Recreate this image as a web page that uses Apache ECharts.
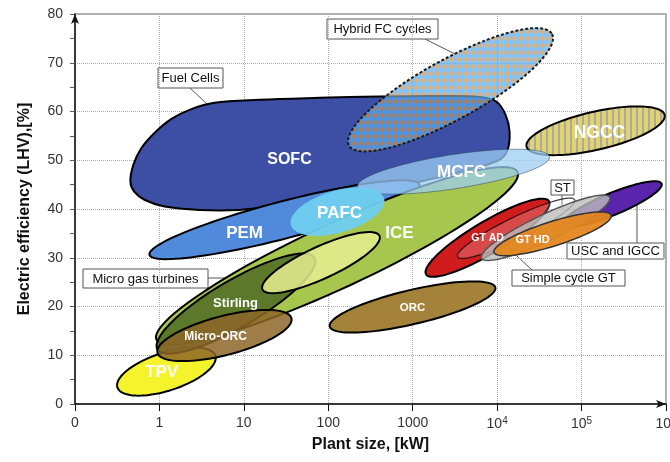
<!DOCTYPE html>
<html>
<head>
<meta charset="utf-8">
<script src="https://cdn.jsdelivr.net/npm/echarts@6/dist/echarts.min.js"></script>
<style>
  html, body { margin: 0; background: #fff; }
  #chart { width: 670px; height: 462px; }
</style>
</head>
<body>
<div id="chart"></div>
<script>
// Fuel cells envelope (outline), plant size [kW] / efficiency [%]
var fcSize = [0.453, 0.492, 0.612, 0.873, 1.39, 2.39, 4.48, 15.3, 78.7, 404, 2078, 6187, 9840, 12590, 14030, 13280, 10670,
              4710, 1204, 308, 78.7, 20.1, 8.87, 2.98, 1.15, 0.664, 0.506];
var fcEff  = [45.6, 49.1, 52.5, 55.6, 58.5, 60.5, 61.8, 62.4, 62.8, 63.1, 63.2, 63.0, 62.0, 59.3, 55.9, 52.1, 50.1,
              48.1, 45.6, 43.5, 41.9, 40.5, 39.8, 39.8, 40.5, 41.9, 43.5];

// technology areas: ends of the long axis (size, efficiency) and half width in efficiency points
var techNames = ['Hybrid FC cycles', 'PEM', 'ICE', 'NGCC', 'MCFC', 'PAFC', 'TPV', 'Stirling', 'Micro gas turbines',
                 'Micro-ORC', 'ORC', 'USC and IGCC', 'GT AD', 'Simple cycle GT', 'ST', 'GT HD'];
var sizeLow   = [176, 0.762, 0.921, 22300, 222, 36.1, 0.318, 0.947, 16.6, 0.947, 104, 59600, 1438, 3396, 6530, 9160];
var effLow    = [53.0, 30.6, 13.2, 52.8, 44.6, 36.7, 3.4, 11.2, 23.5, 10.5, 15.9, 36.8, 26.6, 30.2, 29.9, 31.1];
var sizeHigh  = [44670, 1204, 17450, 962000, 41780, 458, 4.6, 68.6, 404, 36.6, 9520, 887000, 41200, 82600, 215000, 224000];
var effHigh   = [75.9, 45.0, 47.6, 59.3, 50.7, 42.2, 9.9, 30.0, 34.5, 17.6, 23.9, 45.2, 41.6, 41.9, 42.4, 38.7];
var effSpread = [6.15, 3.8, 6.6, 3.9, 3.5, 4.3, 3.9, 4.8, 3.3, 4.0, 3.5, 2.25, 3.3, 2.25, 2.7, 2.5];

// labels written inside the areas
var labelNames = ['SOFC', 'PEM', 'PAFC', 'MCFC', 'ICE', 'NGCC', 'Stirling', 'Micro-ORC', 'TPV', 'ORC', 'GT AD', 'GT HD'];
var labelSize  = [34.7, 10.2, 136, 3787, 698, 163000, 7.95, 4.61, 1.06, 994, 7700, 26300];
var labelEff   = [50.1, 35.1, 39.2, 47.6, 35.1, 55.6, 20.6, 13.8, 6.45, 19.8, 34.1, 33.7];

var xTicks = [0.1, 1, 10, 100, 1000, 1e4, 1e5, 1e6];

var FONT = '"Liberation Sans", Arial, sans-serif';
var labelFont = [16, 17, 17, 17, 17, 17.5, 13, 12, 17, 11.5, 10.5, 11];

function makePattern(w, h, draw) {
    var c = document.createElement('canvas');
    c.width = w; c.height = h;
    draw(c.getContext('2d'));
    return { image: c, repeat: 'repeat' };
}
var dotFill = makePattern(7, 7, function (ctx) {
    ctx.fillStyle = '#58aef2';
    ctx.fillRect(0, 0, 7, 7);
    ctx.fillStyle = '#d8913f';
    ctx.beginPath();
    ctx.arc(3.5, 3.5, 2.3, 0, Math.PI * 2);
    ctx.fill();
});
var stripeFill = makePattern(6, 6, function (ctx) {
    ctx.fillStyle = '#e2d36c';
    ctx.fillRect(0, 0, 6, 6);
    ctx.fillStyle = '#a9a9a9';
    ctx.fillRect(0, 0, 2, 6);
});

var looks = {
    'Fuel Cells':         { fill: '#3d4fa4', stroke: '#000', lw: 2 },
    'Hybrid FC cycles':   { fill: dotFill, opacity: 0.72, stroke: '#1a1a1a', lw: 2, dash: [3, 2] },
    'PEM':                { fill: '#5189db', stroke: '#000', lw: 2 },
    'ICE':                { fill: '#a7c64d', stroke: '#000', lw: 2 },
    'NGCC':               { fill: stripeFill, stroke: '#000', lw: 2 },
    'MCFC':               { fill: '#9ccdf3', opacity: 0.75, stroke: 'rgba(40,60,90,0.5)', lw: 1 },
    'PAFC':               { fill: '#6fcff0', opacity: 0.95, stroke: null },
    'TPV':                { fill: '#f5f42c', stroke: '#000', lw: 2 },
    'Stirling':           { fill: '#4f6a26', opacity: 0.85, stroke: '#000', lw: 2 },
    'Micro gas turbines': { fill: '#e6ef92', opacity: 0.85, stroke: '#000', lw: 2 },
    'Micro-ORC':          { fill: '#8d6628', opacity: 0.85, stroke: '#000', lw: 2 },
    'ORC':                { fill: '#a5823a', stroke: '#000', lw: 2 },
    'USC and IGCC':       { fill: '#5a24ad', stroke: '#000', lw: 2 },
    'GT AD':              { fill: '#cf1d1d', stroke: '#000', lw: 2 },
    'Simple cycle GT':    { fill: '#ffffff', opacity: 0.2, stroke: 'rgba(0,0,0,0.75)', lw: 1.2 },
    'ST':                 { fill: '#bdbdbd', opacity: 0.8, stroke: '#555', lw: 1.5 },
    'GT HD':              { fill: '#e3871f', opacity: 0.95, stroke: '#333', lw: 1.5 }
};

function shapeGroup(points, look, smooth) {
    var children = [{
        type: 'polygon',
        shape: { points: points, smooth: smooth || 0 },
        style: { fill: look.fill, opacity: look.opacity == null ? 1 : look.opacity }
    }];
    if (look.stroke) {
        children.push({
            type: 'polygon',
            shape: { points: points, smooth: smooth || 0 },
            style: { fill: 'none', stroke: look.stroke, lineWidth: look.lw, lineDash: look.dash || null }
        });
    }
    return { type: 'group', children: children };
}

function renderArea(params, api) {
    var i = params.dataIndex;
    if (i === 0) {
        var pts = fcSize.map(function (s, k) { return api.coord([s, fcEff[k]]); });
        return shapeGroup(pts, looks['Fuel Cells'], 0.35);
    }
    var t = i - 1;
    var p1 = api.coord([sizeLow[t], effLow[t]]);
    var p2 = api.coord([sizeHigh[t], effHigh[t]]);
    var q = api.coord([sizeLow[t], effLow[t] + effSpread[t]]);
    var b = Math.abs(p1[1] - q[1]);
    var cx = (p1[0] + p2[0]) / 2, cy = (p1[1] + p2[1]) / 2;
    var dx = (p2[0] - p1[0]) / 2, dy = (p2[1] - p1[1]) / 2;
    var a = Math.sqrt(dx * dx + dy * dy);
    var ux = dx / a, uy = dy / a;
    var pts = [];
    for (var k = 0; k < 96; k++) {
        var th = k / 96 * Math.PI * 2;
        var ca = a * Math.cos(th), sb = b * Math.sin(th);
        pts.push([cx + ca * ux - sb * uy, cy + ca * uy + sb * ux]);
    }
    return shapeGroup(pts, looks[techNames[t]]);
}

function renderLabel(params, api) {
    var i = params.dataIndex;
    var p = api.coord([labelSize[i], labelEff[i]]);
    return {
        type: 'text',
        x: p[0], y: p[1],
        style: {
            text: labelNames[i], fill: '#fff', font: 'bold ' + labelFont[i] + 'px ' + FONT,
            align: 'center', verticalAlign: 'middle'
        }
    };
}

function callout(text, x, y, w, h, line) {
    return {
        type: 'group', z: 100,
        children: [
            { type: 'line', shape: { x1: line[0], y1: line[1], x2: line[2], y2: line[3] },
              style: { stroke: '#555', lineWidth: 1 } },
            { type: 'rect', shape: { x: x, y: y, width: w, height: h },
              style: { fill: '#fff', stroke: '#555', lineWidth: 1 } },
            { type: 'text', x: x + w / 2, y: y + h / 2 + 0.5,
              style: { text: text, fill: '#111', font: '13px ' + FONT, align: 'center', verticalAlign: 'middle' } }
        ]
    };
}

var chart = echarts.init(document.getElementById('chart'));
var areaData = [[fcSize[0], fcEff[0]]].concat(sizeLow.map(function (s, k) { return [s, effLow[k]]; }));

var option = {
    animation: false,
    grid: { left: 75, right: 4, top: 14, bottom: 58, show: true, borderColor: '#9a9a9a', borderWidth: 1.5,
            containLabel: false, outerBoundsMode: 'none' },
    xAxis: {
        type: 'log', logBase: 10, min: xTicks[0], max: xTicks[xTicks.length - 1], splitNumber: 7,
        name: 'Plant size, [kW]', nameLocation: 'middle', nameGap: 33,
        nameTextStyle: { fontFamily: FONT, fontWeight: 'bold', fontSize: 16, color: '#111' },
        axisLine: { lineStyle: { color: '#111', width: 1.5 }, symbol: ['none', 'arrow'], symbolSize: [6, 10] },
        axisTick: { show: true, length: 7, lineStyle: { color: '#111' } },
        minorTick: { show: false },
        axisLabel: {
            margin: 12, fontFamily: FONT, fontSize: 14, color: '#333', showMinLabel: true, showMaxLabel: true,
            formatter: function (v) {
                if (v < 1) return '0';
                if (v <= 1000) return String(Math.round(v));
                return '10{s|' + Math.round(Math.log10(v)) + '}';
            },
            rich: { s: { fontSize: 10, fontFamily: FONT, color: '#333', verticalAlign: 'top', padding: [0, 0, 7, 0] } }
        },
        splitLine: { show: true, lineStyle: { color: '#aaa', type: 'dotted', width: 1 } }
    },
    yAxis: {
        type: 'value', min: 0, max: 80, interval: 10,
        name: 'Electric efficiency (LHV),[%]', nameLocation: 'middle', nameGap: 42,
        nameTextStyle: { fontFamily: FONT, fontWeight: 'bold', fontSize: 16, color: '#111' },
        axisLine: { show: true, lineStyle: { color: '#111', width: 1.5 }, symbol: ['none', 'arrow'], symbolSize: [6, 10] },
        axisTick: { show: true, length: 5, lineStyle: { color: '#555' } },
        minorTick: { show: true, splitNumber: 2, length: 5, lineStyle: { color: '#555' } },
        axisLabel: { margin: 12, fontFamily: FONT, fontSize: 14, color: '#333' },
        splitLine: { show: true, lineStyle: { color: '#aaa', type: 'dotted', width: 1 } }
    },
    series: [
        { type: 'custom', name: 'areas', coordinateSystem: 'cartesian2d', renderItem: renderArea,
          data: areaData, silent: true, z: 2 },
        { type: 'custom', name: 'labels', coordinateSystem: 'cartesian2d', renderItem: renderLabel,
          data: labelSize.map(function (s, k) { return [s, labelEff[k]]; }), silent: true, z: 3 }
    ],
    graphic: { elements: [
        callout('Fuel Cells', 158, 68, 65, 20, [190, 88, 207, 104]),
        callout('Hybrid FC cycles', 327, 19, 111, 20, [425, 39, 455, 54]),
        callout('Micro gas turbines', 83, 269, 125, 19, [208, 278, 297, 278]),
        callout('ST', 551, 180, 23, 15, [562, 195, 562, 205]),
        callout('USC and IGCC', 567, 243, 97, 16, [637, 243, 637, 205]),
        callout('Simple cycle GT', 512, 270, 113, 16, [532, 270, 503, 243])
    ] }
};
chart.setOption(option);
</script>
</body>
</html>
